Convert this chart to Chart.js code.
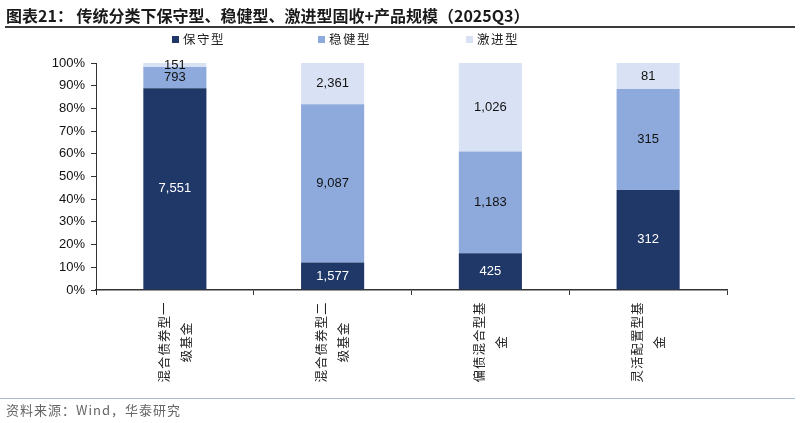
<!DOCTYPE html>
<html>
<head>
<meta charset="utf-8">
<script src="https://cdn.jsdelivr.net/npm/chart.js@4.4.0/dist/chart.umd.min.js"></script>
<style>
  html, body { margin: 0; padding: 0; background: #fff; }
  #wrap { position: relative; width: 800px; height: 423px; overflow: hidden; }
  #title { position: absolute; left: 6px; top: 3px; font: bold 16px "Noto Sans CJK SC", sans-serif; color: #1a1a1a; white-space: nowrap; }
  #titleRule { position: absolute; left: 5px; top: 26px; width: 790px; height: 2px; background: #3a3a3a; }
  #footRule { position: absolute; left: 0px; top: 398px; width: 795px; height: 1px; background: #a8bace; }
  #source { position: absolute; left: 6px; top: 400px; font: 13px "Noto Sans CJK SC", sans-serif; color: #666; letter-spacing: 1px; white-space: nowrap; }
  .leg { position: absolute; top: 29px; font: 12.5px "Noto Sans CJK SC", sans-serif; color: #222; letter-spacing: 1.5px; white-space: nowrap; }
  .leg i { display: inline-block; width: 7px; height: 7px; margin-right: 4px; vertical-align: 1px; }
  canvas { position: absolute; left: 0; top: 0; }
</style>
</head>
<body>
<div id="wrap">
  <canvas id="c" width="800" height="423"></canvas>
  <div id="title">图表21：&nbsp;传统分类下保守型、稳健型、激进型固收+产品规模（2025Q3）</div>
  <div id="titleRule"></div>
  <div id="legend"></div>
  <div id="footRule"></div>
  <div id="source">资料来源：Wind，华泰研究</div>
</div>
<script>
// ==================== DATA ====================
const categories = [
  ['混合债券型一', '级基金'],
  ['混合债券型二', '级基金'],
  ['偏债混合型基', '金'],
  ['灵活配置型基', '金']
];
const seriesNames = ['保守型', '稳健型', '激进型'];
const conservative = [7551, 1577, 425, 312];
const balanced = [793, 9087, 1183, 315];
const aggressive = [151, 2361, 1026, 81];
const yTicks = [0, 10, 20, 30, 40, 50, 60, 70, 80, 90, 100];

const colors = ['#1f3868', '#8eaadc', '#d9e2f4'];
const labelColors = ['#ffffff', '#111111', '#111111'];
const legendX = [172, 318, 466];

// ==================== HTML LEGEND ====================
const legendEl = document.getElementById('legend');
seriesNames.forEach((name, i) => {
  const d = document.createElement('div');
  d.className = 'leg';
  d.style.left = legendX[i] + 'px';
  d.innerHTML = '<i style="background:' + colors[i] + '"></i>' + name;
  legendEl.appendChild(d);
});

// ==================== 100% STACK ====================
const rawSeries = [conservative, balanced, aggressive];
const totals = categories.map((_, i) => rawSeries.reduce((s, arr) => s + arr[i], 0));
const datasets = rawSeries.map((arr, k) => ({
  label: seriesNames[k],
  data: arr.map((v, i) => v / totals[i] * 100),
  raw: arr,
  backgroundColor: colors[k],
  borderWidth: 0,
  categoryPercentage: 1,
  barPercentage: 0.4
}));

// value labels inside bar segments
const valueLabels = {
  id: 'valueLabels',
  afterDatasetsDraw(chart) {
    const ctx = chart.ctx;
    ctx.save();
    ctx.font = '13px "Liberation Sans", Arial, sans-serif';
    ctx.textAlign = 'center';
    ctx.textBaseline = 'middle';
    chart.data.datasets.forEach((ds, k) => {
      chart.getDatasetMeta(k).data.forEach((bar, i) => {
        const mid = (bar.y + bar.base) / 2;
        ctx.fillStyle = labelColors[k];
        ctx.fillText(ds.raw[i].toLocaleString('en-US'), bar.x, mid);
      });
    });
    ctx.restore();
  }
};

// vertical category labels under the x axis
const verticalLabels = {
  id: 'verticalLabels',
  afterDraw(chart) {
    const ctx = chart.ctx;
    const xs = chart.scales.x;
    ctx.save();
    ctx.font = '12.5px "Noto Sans CJK SC", sans-serif';
    ctx.letterSpacing = '1px';
    ctx.fillStyle = '#222';
    ctx.textAlign = 'center';
    ctx.textBaseline = 'middle';
    categories.forEach((lines, i) => {
      const cx = xs.getPixelForValue(i);
      ctx.save();
      ctx.translate(cx, 342);
      ctx.rotate(-Math.PI / 2);
      const gap = 22;
      const start = -(lines.length - 1) * gap / 2;
      lines.forEach((t, j) => {
        ctx.fillText(t, 0, start + j * gap);
      });
      ctx.restore();
    });
    ctx.restore();
  }
};

new Chart(document.getElementById('c').getContext('2d'), {
  type: 'bar',
  data: {
    labels: categories.map(c => c.join('')),
    datasets: datasets
  },
  options: {
    responsive: false,
    animation: false,
    layout: { padding: { left: 0, top: 63, right: 73, bottom: 0 } },
    plugins: {
      legend: { display: false },
      tooltip: { enabled: false }
    },
    scales: {
      x: {
        stacked: true,
        offset: true,
        grid: { display: true, drawOnChartArea: false, offset: true, color: '#333', tickLength: 5, lineWidth: 1 },
        border: { display: true, color: '#333', width: 1.5 },
        ticks: { display: false },
        afterFit(scale) { scale.height = 133; }
      },
      y: {
        stacked: true,
        min: 0,
        max: 100,
        afterBuildTicks(scale) { scale.ticks = yTicks.map(v => ({ value: v })); },
        grid: { display: true, drawOnChartArea: false, color: '#333', tickLength: 5 },
        border: { display: true, color: '#333', width: 1 },
        ticks: {
          color: '#111',
          padding: 6,
          font: { family: '"Liberation Sans", Arial, sans-serif', size: 13 },
          callback: v => v + '%'
        },
        afterFit(scale) { scale.width = 96; }
      }
    }
  },
  plugins: [valueLabels, verticalLabels]
});
</script>
</body>
</html>
